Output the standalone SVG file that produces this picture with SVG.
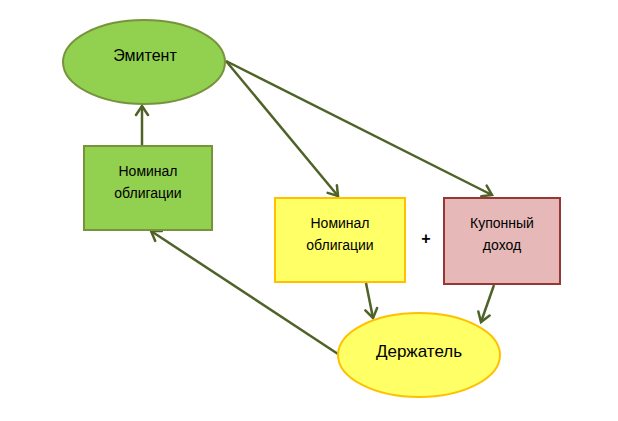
<svg xmlns="http://www.w3.org/2000/svg" width="618" height="421" viewBox="0 0 618 421">
<defs>
<style>
text{font-family:"Liberation Sans",Arial,sans-serif;fill:#000;text-anchor:middle}
.c{stroke:#4F6228;stroke-width:2.5;fill:none}
.s{font-size:14px}
</style>
<marker id="a" markerUnits="userSpaceOnUse" viewBox="-12 -8 14 16" markerWidth="14" markerHeight="16" refX="0" refY="0" orient="auto">
<path d="M-9,-6 L0,0 L-9,6" fill="none" stroke="#4F6228" stroke-width="2.5" stroke-linecap="round" stroke-linejoin="miter"/>
</marker>
</defs>
<rect width="618" height="421" fill="#fff"/>
<g id="connectors">
<line class="c" x1="142" y1="146" x2="142" y2="106" marker-end="url(#a)"/>
<line class="c" x1="226" y1="61" x2="338" y2="196" marker-end="url(#a)"/>
<line class="c" x1="226" y1="61" x2="492" y2="195" marker-end="url(#a)"/>
<line class="c" x1="366" y1="283" x2="373" y2="318" marker-end="url(#a)"/>
<line class="c" x1="494" y1="285" x2="481" y2="322" marker-end="url(#a)"/>
<line class="c" x1="338" y1="354" x2="151" y2="231" marker-end="url(#a)"/>
</g>
<g id="emitent">
<ellipse cx="144" cy="62" rx="81" ry="42" fill="#92D050" stroke="#77933C" stroke-width="2"/>
<text x="145" y="61" font-size="16">Эмитент</text>
</g>
<g id="nominal-left">
<rect x="84" y="146" width="128" height="84" fill="#92D050" stroke="#77933C" stroke-width="2"/>
<text class="s" x="148" y="176">Номинал</text>
<text class="s" x="148" y="198">облигации</text>
</g>
<g id="nominal-right">
<rect x="275" y="198" width="130" height="84" fill="#FFFF66" stroke="#FFC000" stroke-width="2"/>
<text class="s" x="340" y="228">Номинал</text>
<text class="s" x="340" y="250">облигации</text>
</g>
<g id="plus">
<text x="426" y="244" font-size="16" font-weight="bold">+</text>
</g>
<g id="coupon">
<rect x="444" y="198" width="116" height="86" fill="#E6B9B8" stroke="#953735" stroke-width="2"/>
<text class="s" x="502" y="228">Купонный</text>
<text class="s" x="502" y="250">доход</text>
</g>
<g id="holder">
<ellipse cx="419" cy="355" rx="81" ry="42" fill="#FFFF66" stroke="#FFC000" stroke-width="2"/>
<text x="419" y="357" font-size="17">Держатель</text>
</g>
</svg>
